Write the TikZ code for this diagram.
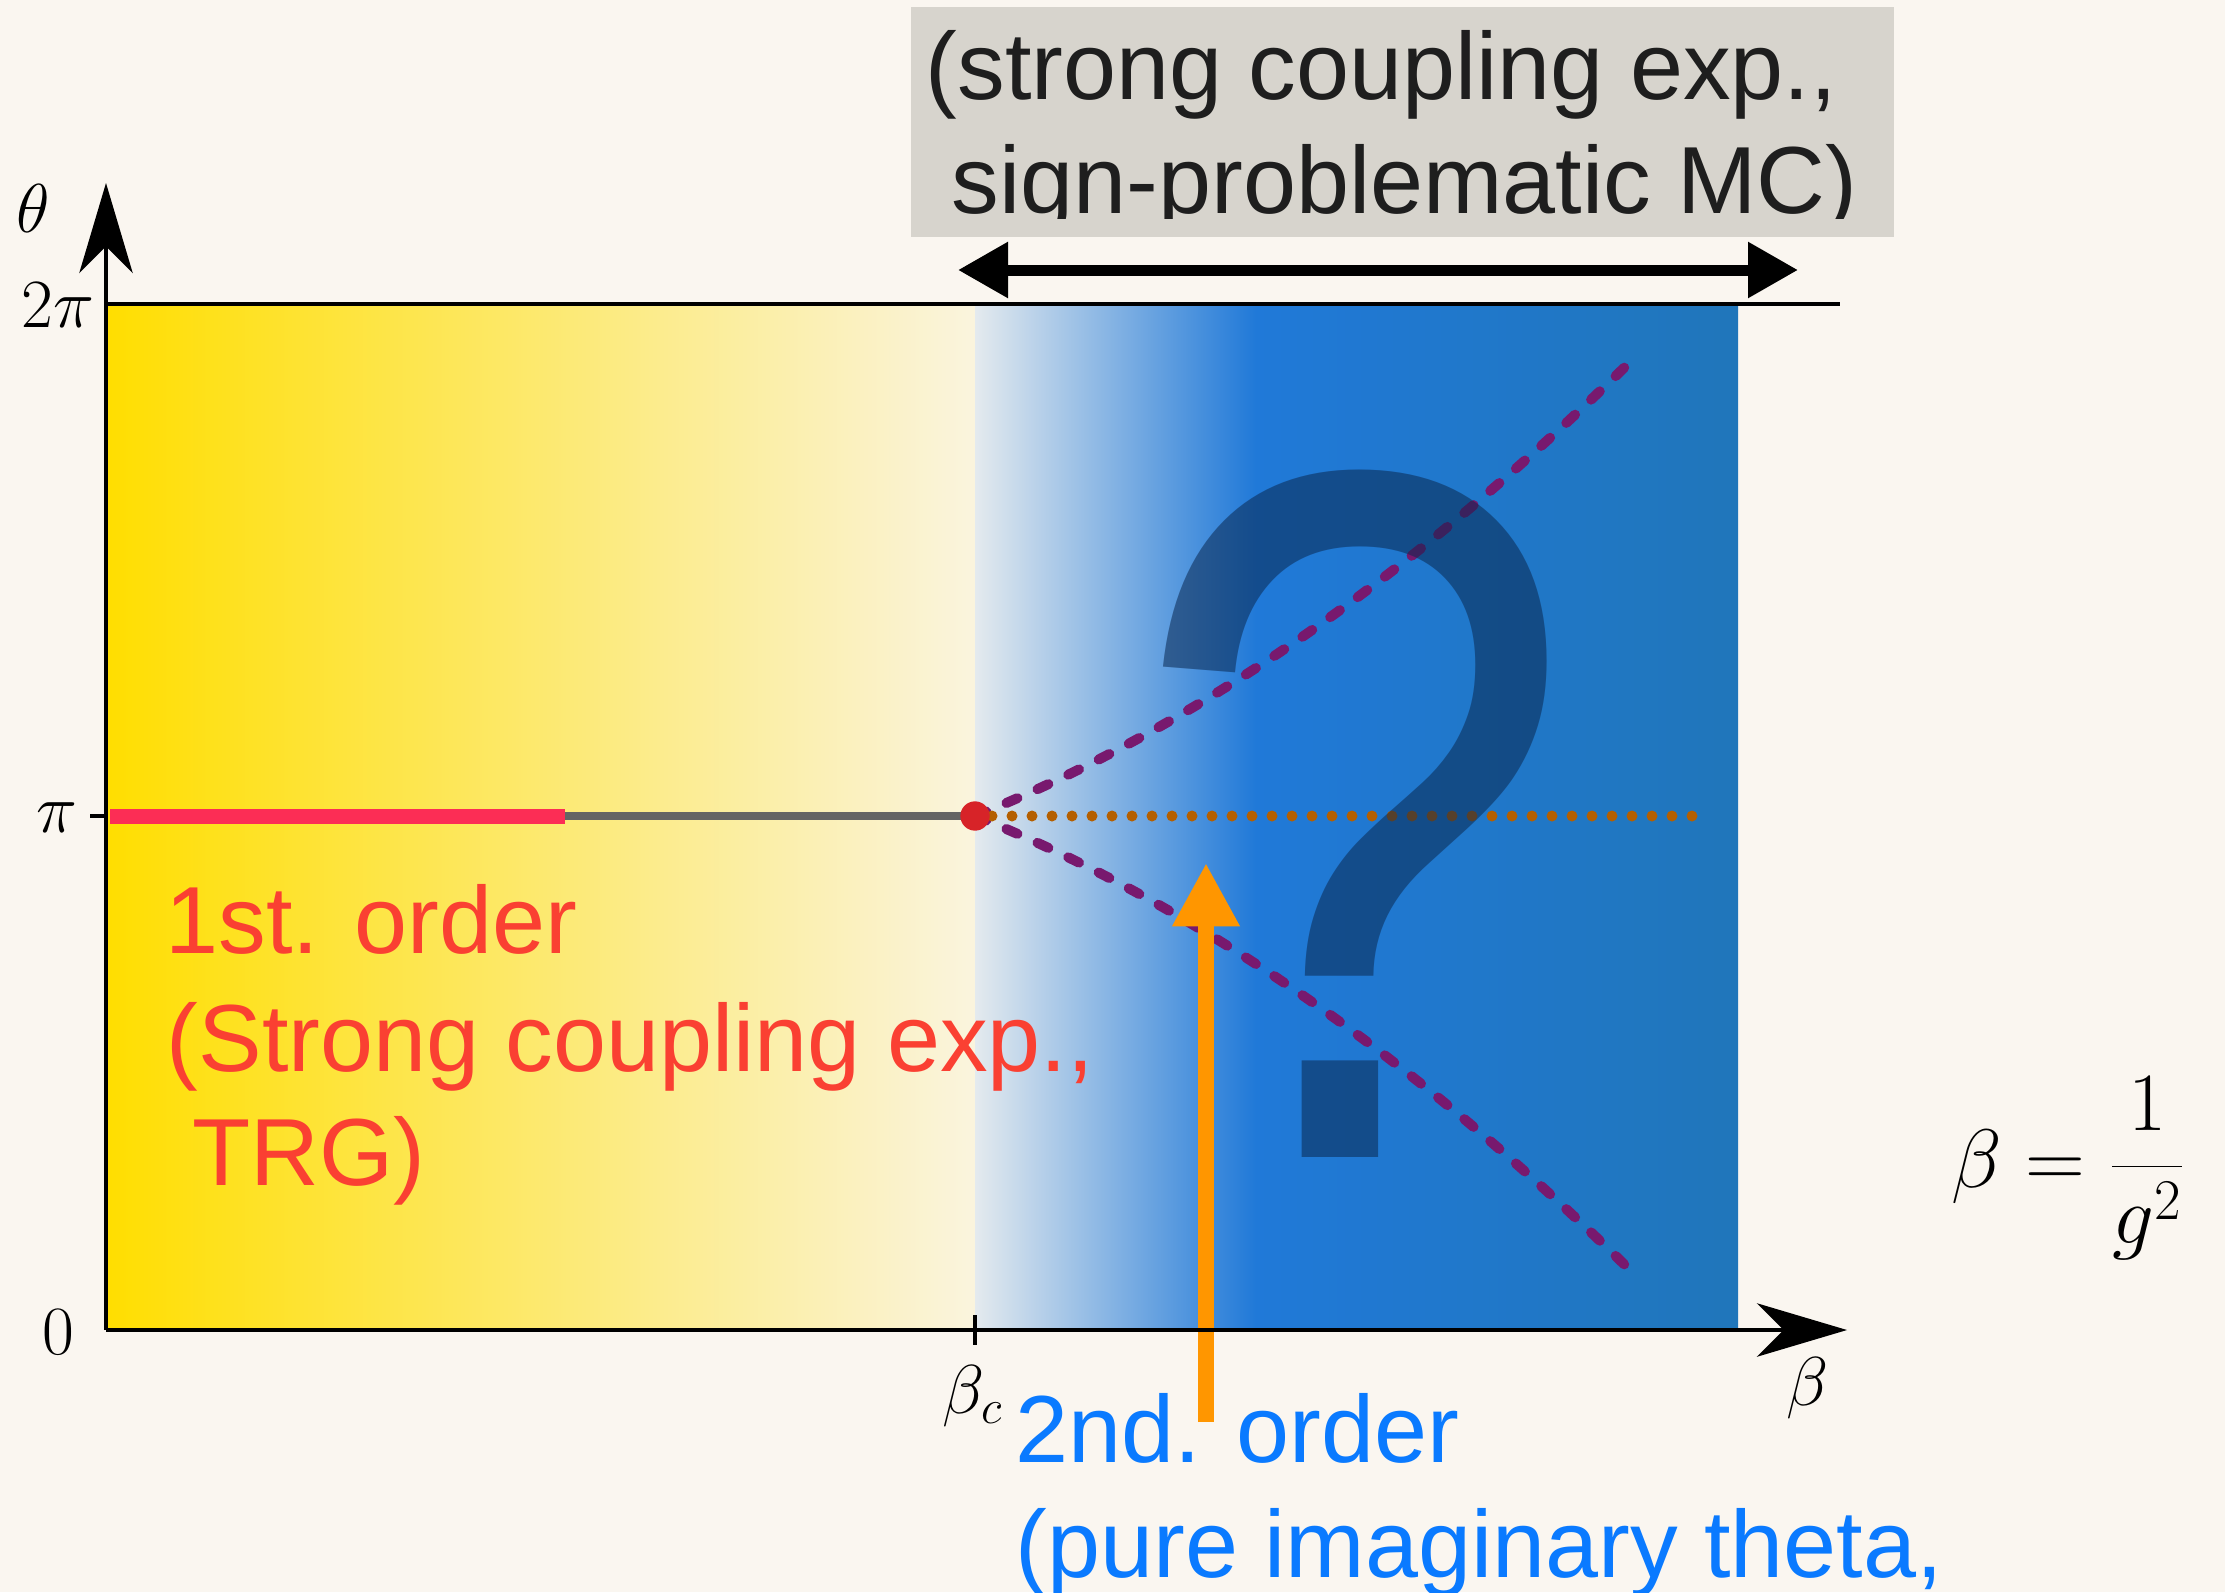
\documentclass[tikz,border=0pt]{standalone}
\usepackage{fontspec}
\usepackage{graphicx}
\usetikzlibrary{arrows.meta}
\newfontfamily\helv{Liberation Sans}
\definecolor{bg}{RGB}{250,246,240}
\definecolor{yelA}{RGB}{255,222,0}
\definecolor{yelB}{RGB}{250,244,222}
\definecolor{bluA}{RGB}{228,234,238}
\definecolor{bluB}{RGB}{32,121,216}
\definecolor{bluC}{RGB}{32,118,186}
\definecolor{qdark}{RGB}{10,40,80}
\definecolor{purp}{RGB}{120,25,110}
\definecolor{dotor}{RGB}{180,95,0}
\definecolor{redline}{RGB}{252,45,85}
\definecolor{reddot}{RGB}{215,35,40}
\definecolor{grayline}{RGB}{100,100,100}
\definecolor{arrowor}{RGB}{255,150,0}
\definecolor{redtxt}{RGB}{250,64,50}
\definecolor{bluetxt}{RGB}{10,122,255}
\definecolor{boxgray}{RGB}{215,212,205}
\definecolor{boxtxt}{RGB}{30,30,30}
\begin{document}
\begin{tikzpicture}[x=0.3pt,y=-0.3pt,
  axisline/.style={draw=black,line width=1.4pt},
  axtip/.style={-{Stealth[length=27pt,width=16pt,inset=8pt]}},
  lbl/.style={inner sep=0pt,anchor=base,font=\fontsize{21}{25}\selectfont},
  redt/.style={inner sep=0pt,anchor=base west,text=redtxt,font=\helv\fontsize{28.6}{34}\selectfont},
  bluet/.style={inner sep=0pt,anchor=base west,text=bluetxt,font=\helv\fontsize{28.6}{34}\selectfont},
  boxt/.style={inner sep=0pt,anchor=base west,text=boxtxt,font=\helv\fontsize{28.6}{34}\selectfont},
  purpdash/.style={draw=purp,line width=3pt,line cap=round,dash pattern=on 3.6pt off 6.6pt},
  ordots/.style={draw=dotor,line width=3.3pt,line cap=round,dash pattern=on 0pt off 6pt}
]
\useasboundingbox (0,0) rectangle (2225,1592);
\fill[bg] (0,0) rectangle (2225,1592);

% grey method box
\fill[boxgray] (911,7) rectangle (1894,237);
\begin{scope}
  \clip (905,0) rectangle (1900,218);
  \node[boxt] (t1) at (925,100) {(strong coupling exp.,};
  \node[boxt] (t2) at (951,213) {sign-problematic MC)};
\end{scope}

% phase regions
\shade[left color=yelA,right color=yelB] (106,304) rectangle (975,1330);
\shade[left color=bluA,right color=bluB] (975,304) rectangle (1256,1330);
\shade[left color=bluB,right color=bluC] (1256,304) rectangle (1738,1330);

% key points
\coordinate (O) at (106,1330);
\coordinate (ytip) at (106,183);
\coordinate (xtip) at (1847,1330);
\coordinate (tl) at (106,304);
\coordinate (tr) at (1840,304);
\coordinate (piL) at (90,816);
\coordinate (piA) at (106,816);
\coordinate (redS) at (110,816);
\coordinate (redE) at (565,816);
\coordinate (crit) at (975,816);
\coordinate (dotS) at (992,816);
\coordinate (dotE) at (1695,816);
\coordinate (upE) at (1632,360);
\coordinate (loE) at (1632,1272);
\coordinate (bcT) at (975,1315);
\coordinate (bcB) at (975,1345);
\coordinate (arrL) at (958,270);
\coordinate (arrR) at (1798,270);
\coordinate (orB) at (1206,1422);
\coordinate (orT) at (1206,863);

% transition lines
\draw[redline,line width=4.5pt] (redS) -- (redE);
\draw[grayline,line width=2.5pt] (redE) -- (crit);
\draw[purpdash] (crit) .. controls (1194,728) and (1413,576) .. (upE);
\draw[purpdash] (crit) .. controls (1194,904) and (1413,1056) .. (loE);
\draw[ordots] (dotS) -- (dotE);

% big question mark
\node[inner sep=0pt,anchor=base,text=qdark,text opacity=0.55,
      font=\helv\fontsize{280}{280}\selectfont] (qm) at (1354,1157) {\scalebox{0.86}[1.055]{?}};

% critical point
\node[circle,fill=reddot,minimum size=8.8pt,inner sep=0pt] (cp) at (crit) {};

% orange arrow
\draw[arrowor,line width=4.6pt,-{Triangle[length=19pt,width=19pt]}] (orB) -- (orT);

% double arrow
\draw[line width=3.3pt,{Triangle[length=15pt,width=16pt]}-{Triangle[length=15pt,width=16pt]}] (arrL) -- (arrR);

% axes
\draw[axisline] (tl) -- (tr);
\draw[axisline,axtip] (O) -- (ytip);
\draw[axisline,axtip] (O) -- (xtip);
\draw[axisline] (piL) -- (piA);
\draw[axisline] (bcT) -- (bcB);

% axis labels
\node[lbl] (lth) at (33,232) {$\theta$};
\node[lbl] (l2pi) at (58,327) {$2\pi$};
\node[lbl] (lpi) at (57,832) {$\pi$};
\node[lbl] (l0) at (58,1354) {$0$};
\node[lbl,font=\fontsize{22}{26}\selectfont] (lbc) at (973,1413) {$\beta_c$};
\node[lbl,font=\fontsize{22}{26}\selectfont] (lb) at (1807,1405) {$\beta$};
\node[lbl,font=\fontsize{25}{30}\selectfont] (lform) at (2069,1187) {$\displaystyle\beta=\frac{1}{g^2}$};

% region texts
\node[redt] (r1) at (165,953) {1st. order};
\node[redt] (r2) at (166,1071) {(Strong coupling exp.,};
\node[redt] (r3) at (192,1185) {TRG)};
\node[bluet] (b1) at (1015,1462) {2nd. order};
\node[bluet] (b2) at (1015,1577) {(pure imaginary theta,};
\end{tikzpicture}
\end{document}
